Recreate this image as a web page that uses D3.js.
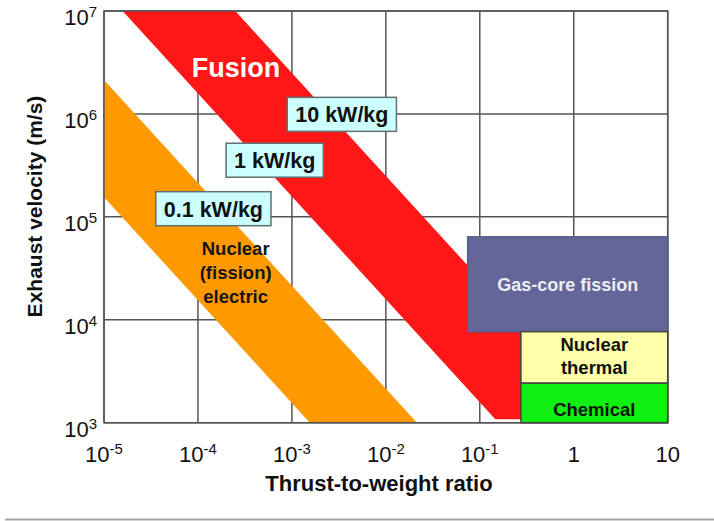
<!DOCTYPE html>
<html>
<head>
<meta charset="utf-8">
<script src="https://cdn.jsdelivr.net/npm/d3@7"></script>
<style>
  body { margin: 0; background: #fff; }
  text { font-family: "Liberation Sans", Arial, sans-serif; }
</style>
</head>
<body>
<script>
// tick values and labels (base, exponent)
var xTickValues = [1e-5, 1e-4, 1e-3, 1e-2, 1e-1, 1, 10];
var xTickLabels = [["10", "-5"], ["10", "-4"], ["10", "-3"], ["10", "-2"], ["10", "-1"], ["1", ""], ["10", ""]];
var yTickValues = [1e3, 1e4, 1e5, 1e6, 1e7];
var yTickLabels = [["10", "3"], ["10", "4"], ["10", "5"], ["10", "6"], ["10", "7"]];

// diagonal bands: v * (F/W) constant along each edge
var bandNames = ["Nuclear (fission) electric", "Fusion"];
var bandLowK = [1.55, 158];
var bandHighK = [21.4, 2500];
var bandMinV = [1e3, 1.08e3];
var bandColors = ["#ff9900", "#ff1616"];

// rectangular regions
var boxNames = ["Gas-core fission", "Nuclear thermal", "Chemical"];
var boxLines = [["Gas-core fission"], ["Nuclear", "thermal"], ["Chemical"]];
var boxTW0 = [0.0743, 0.274, 0.274];
var boxTW1 = [10, 10, 10];
var boxV0 = [7.66e3, 2.42e3, 1e3];
var boxV1 = [6.4e4, 7.66e3, 2.42e3];
var boxColors = ["#646699", "#ffffaa", "#10f010"];

// specific power call-outs
var powerLabels = ["10 kW/kg", "1 kW/kg", "0.1 kW/kg"];
var powerTW = [3.4e-3, 6.56e-4, 1.46e-4];
var powerV = [9.9e5, 3.55e5, 1.2e5];

var width = 714, height = 521;
var pLeft = 104, pRight = 667.7, pTop = 11, pBottom = 422.7;

var svg = d3.select("body").append("svg")
  .attr("width", width)
  .attr("height", height);

var x = d3.scaleLog().domain([1e-5, 10]).range([pLeft, pRight]);
var y = d3.scaleLog().domain([1e3, 1e7]).range([pBottom, pTop]);

var defs = svg.append("defs");

// grid
var grid = svg.append("g");
grid.selectAll("line.v")
  .data(xTickValues)
  .enter().append("line")
  .attr("x1", d => x(d)).attr("x2", d => x(d))
  .attr("y1", pTop).attr("y2", pBottom)
  .attr("stroke", "#555").attr("stroke-width", 1.5);
grid.selectAll("line.h")
  .data(yTickValues)
  .enter().append("line")
  .attr("x1", pLeft).attr("x2", pRight)
  .attr("y1", d => y(d)).attr("y2", d => y(d))
  .attr("stroke", "#555").attr("stroke-width", 1.5);

// bands
bandNames.forEach(function(name, i) {
  var clipId = "clip" + i;
  defs.append("clipPath").attr("id", clipId)
    .append("rect")
    .attr("x", pLeft).attr("y", pTop)
    .attr("width", pRight - pLeft)
    .attr("height", y(bandMinV[i]) - pTop);

  var t0 = 1e-7, t1 = 1e2;
  var pts = [
    [t0, bandLowK[i] / t0], [t1, bandLowK[i] / t1],
    [t1, bandHighK[i] / t1], [t0, bandHighK[i] / t0]
  ];
  svg.append("polygon")
    .attr("clip-path", "url(#" + clipId + ")")
    .attr("points", pts.map(p => x(p[0]) + "," + y(p[1])).join(" "))
    .attr("fill", bandColors[i]);
});

// frame
svg.append("rect")
  .attr("x", pLeft).attr("y", pTop)
  .attr("width", pRight - pLeft).attr("height", pBottom - pTop)
  .attr("fill", "none").attr("stroke", "#555").attr("stroke-width", 1.5);

// boxes
var boxTextShift = [0, -1.5, 7];
boxNames.forEach(function(name, i) {
  var x0 = x(boxTW0[i]), x1 = x(boxTW1[i]);
  var y0 = y(boxV1[i]), y1 = y(boxV0[i]);
  svg.append("rect")
    .attr("x", x0).attr("y", y0)
    .attr("width", x1 - x0).attr("height", y1 - y0)
    .attr("fill", boxColors[i])
    .attr("stroke", i == 0 ? "#5a5c88" : "#444")
    .attr("stroke-width", 1.5);

  var lines = boxLines[i];
  var cx = (x0 + x1) / 2, cy = (y0 + y1) / 2;
  var lh = 23;
  lines.forEach(function(l, j) {
    svg.append("text")
      .attr("x", cx)
      .attr("y", cy + (j - (lines.length - 1) / 2) * lh + 6.5 + boxTextShift[i])
      .attr("text-anchor", "middle")
      .attr("font-size", i == 0 ? 18 : 18.5)
      .attr("font-weight", "bold")
      .attr("fill", i == 0 ? "#ececf4" : "#111")
      .text(l);
  });
});

// band labels
svg.append("text")
  .attr("x", x(2.54e-4)).attr("y", y(2.29e6))
  .attr("text-anchor", "middle")
  .attr("font-size", 27).attr("font-weight", "bold")
  .attr("fill", "#fff")
  .text("Fusion");

["Nuclear", "(fission)", "electric"].forEach(function(l, j) {
  svg.append("text")
    .attr("x", x(2.52e-4)).attr("y", y(4.27e4) + j * 24)
    .attr("text-anchor", "middle")
    .attr("font-size", 18.5).attr("font-weight", "bold")
    .attr("fill", "#151515")
    .text(l);
});

// specific power call-outs
powerLabels.forEach(function(l, i) {
  var g = svg.append("g")
    .attr("transform", "translate(" + x(powerTW[i]) + "," + y(powerV[i]) + ")");
  var rect = g.append("rect");
  var t = g.append("text")
    .attr("text-anchor", "middle")
    .attr("y", 8)
    .attr("font-size", 21.5).attr("font-weight", "bold")
    .attr("fill", "#111")
    .text(l);
  var w = t.node().getComputedTextLength() + 16;
  rect.attr("x", -w / 2).attr("y", -17)
    .attr("width", w).attr("height", 34)
    .attr("fill", "#ccffff")
    .attr("stroke", "#5f6f70").attr("stroke-width", 1.5);
});

// x tick labels
svg.selectAll("text.xt")
  .data(xTickValues)
  .enter().append("text")
  .attr("class", "xt")
  .attr("x", d => x(d))
  .attr("y", 462)
  .attr("text-anchor", "middle")
  .attr("font-size", 22)
  .attr("fill", "#111")
  .each(function(d, i) {
    var t = d3.select(this);
    t.append("tspan").text(xTickLabels[i][0]);
    if (xTickLabels[i][1]) {
      t.append("tspan").attr("dy", -8).attr("font-size", 15).text(xTickLabels[i][1]);
    }
  });

// y tick labels
svg.selectAll("text.yt")
  .data(yTickValues)
  .enter().append("text")
  .attr("class", "yt")
  .attr("x", 97)
  .attr("y", d => y(d) + 14)
  .attr("text-anchor", "end")
  .attr("font-size", 22)
  .attr("fill", "#111")
  .each(function(d, i) {
    var t = d3.select(this);
    t.append("tspan").text(yTickLabels[i][0]);
    t.append("tspan").attr("dy", -8).attr("font-size", 15).text(yTickLabels[i][1]);
  });

// axis titles
svg.append("text")
  .attr("x", 379).attr("y", 491)
  .attr("text-anchor", "middle")
  .attr("font-size", 22).attr("font-weight", "bold")
  .attr("fill", "#111")
  .text("Thrust-to-weight ratio");

svg.append("text")
  .attr("transform", "translate(41.5,206.5) rotate(-90)")
  .attr("text-anchor", "middle")
  .attr("font-size", 21).attr("font-weight", "bold")
  .attr("fill", "#111")
  .text("Exhaust velocity (m/s)");

// slide bottom rule
svg.append("line")
  .attr("x1", 5).attr("x2", width)
  .attr("y1", 519.5).attr("y2", 519.5)
  .attr("stroke", "#a8a8a8").attr("stroke-width", 2);
</script>
</body>
</html>
